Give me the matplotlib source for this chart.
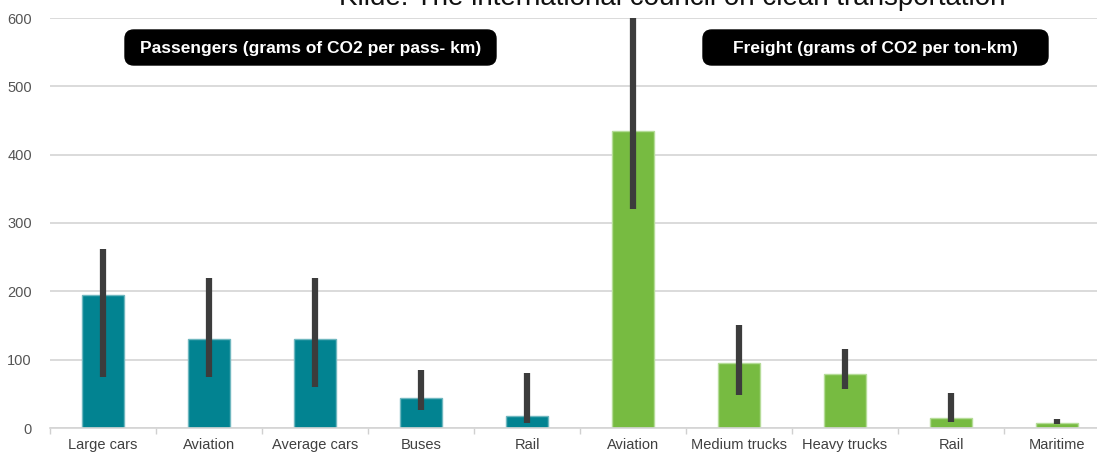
import matplotlib
matplotlib.use("Agg")
import matplotlib.pyplot as plt
from matplotlib import font_manager
from matplotlib.patches import FancyBboxPatch

# emission intensity by transport mode, with low/high ranges
categories = ["Large cars", "Aviation", "Average cars", "Buses", "Rail",
              "Aviation", "Medium trucks", "Heavy trucks", "Rail", "Maritime"]
groups = ["pass", "pass", "pass", "pass", "pass",
          "freight", "freight", "freight", "freight", "freight"]
values = [195, 130, 130, 44, 18, 435, 95, 79, 15, 8]
low = [75, 75, 60, 27, 7, 320, 48, 57, 9, 6]
high = [262, 220, 220, 85, 80, 650, 151, 116, 51, 13]

source = "Kilde: The international council on clean transportation"
pass_label = "Passengers (grams of CO2 per pass- km)"
freight_label = "Freight (grams of CO2 per ton-km)"

names = {f.name for f in font_manager.fontManager.ttflist}
narrow = "Liberation Sans Narrow" if "Liberation Sans Narrow" in names else "Liberation Sans"
plt.rcParams["font.family"] = [narrow, "DejaVu Sans"]

colors = {"pass": "#028391", "freight": "#77bb41"}
edges = {"pass": "#6fb7bf", "freight": "#b5dc98"}

W, H = 1097, 457
fig = plt.figure(figsize=(W / 100, H / 100), dpi=100)
ax = fig.add_axes([50 / W, (H - 428) / H, 1060 / W, 410 / H])

x = list(range(len(categories)))
ax.bar(x, values, width=0.4, color=[colors[g] for g in groups],
       edgecolor=[edges[g] for g in groups], linewidth=1, zorder=2)
ax.vlines(x, low, high, color="#3c3c3c", linewidth=4.5, zorder=3)

ax.set_xlim(-0.5, len(categories) - 0.5)
ax.set_ylim(0, 600)
ax.set_yticks(range(0, 601, 100))
ax.set_xticks(x)
ax.set_xticklabels(categories)
ax.set_xticks([i + 0.5 for i in range(-1, len(categories))], minor=True)
ax.tick_params(axis="x", which="major", length=0, pad=7, labelsize=10.5, colors="#404040")
ax.tick_params(axis="x", which="minor", length=4, color="#d0d0d0", width=1)
ax.tick_params(axis="y", length=0, pad=13, labelsize=10.5, labelcolor="#555555")
ax.yaxis.grid(True, color="#d4d4d4", linewidth=1.2, zorder=0)
ax.set_axisbelow(True)
for s in ["top", "right", "left"]:
    ax.spines[s].set_visible(False)
ax.spines["bottom"].set_color("#d4d4d4")
ax.spines["bottom"].set_linewidth(1.2)

# black rounded header boxes, given in pixel extents
for (x0, x1), label in [((125, 496), pass_label), ((703, 1048), freight_label)]:
    patch = FancyBboxPatch((x0 / W, (H - 65) / H), (x1 - x0) / W, 35 / H,
                           boxstyle="round,pad=0,rounding_size=0.008",
                           transform=fig.transFigure, facecolor="black",
                           edgecolor="black", mutation_aspect=W / H)
    fig.add_artist(patch)
    fig.text((x0 + x1) / 2 / W, (H - 48) / H, label, ha="center", va="center",
             color="white", fontsize=12.5, fontweight="bold")

fig.text(672 / W, (H - 5) / H, source, ha="center", va="baseline", color="#111111",
         fontsize=20, family=["Liberation Sans", "DejaVu Sans"])

fig.savefig("out.png", dpi=100)
